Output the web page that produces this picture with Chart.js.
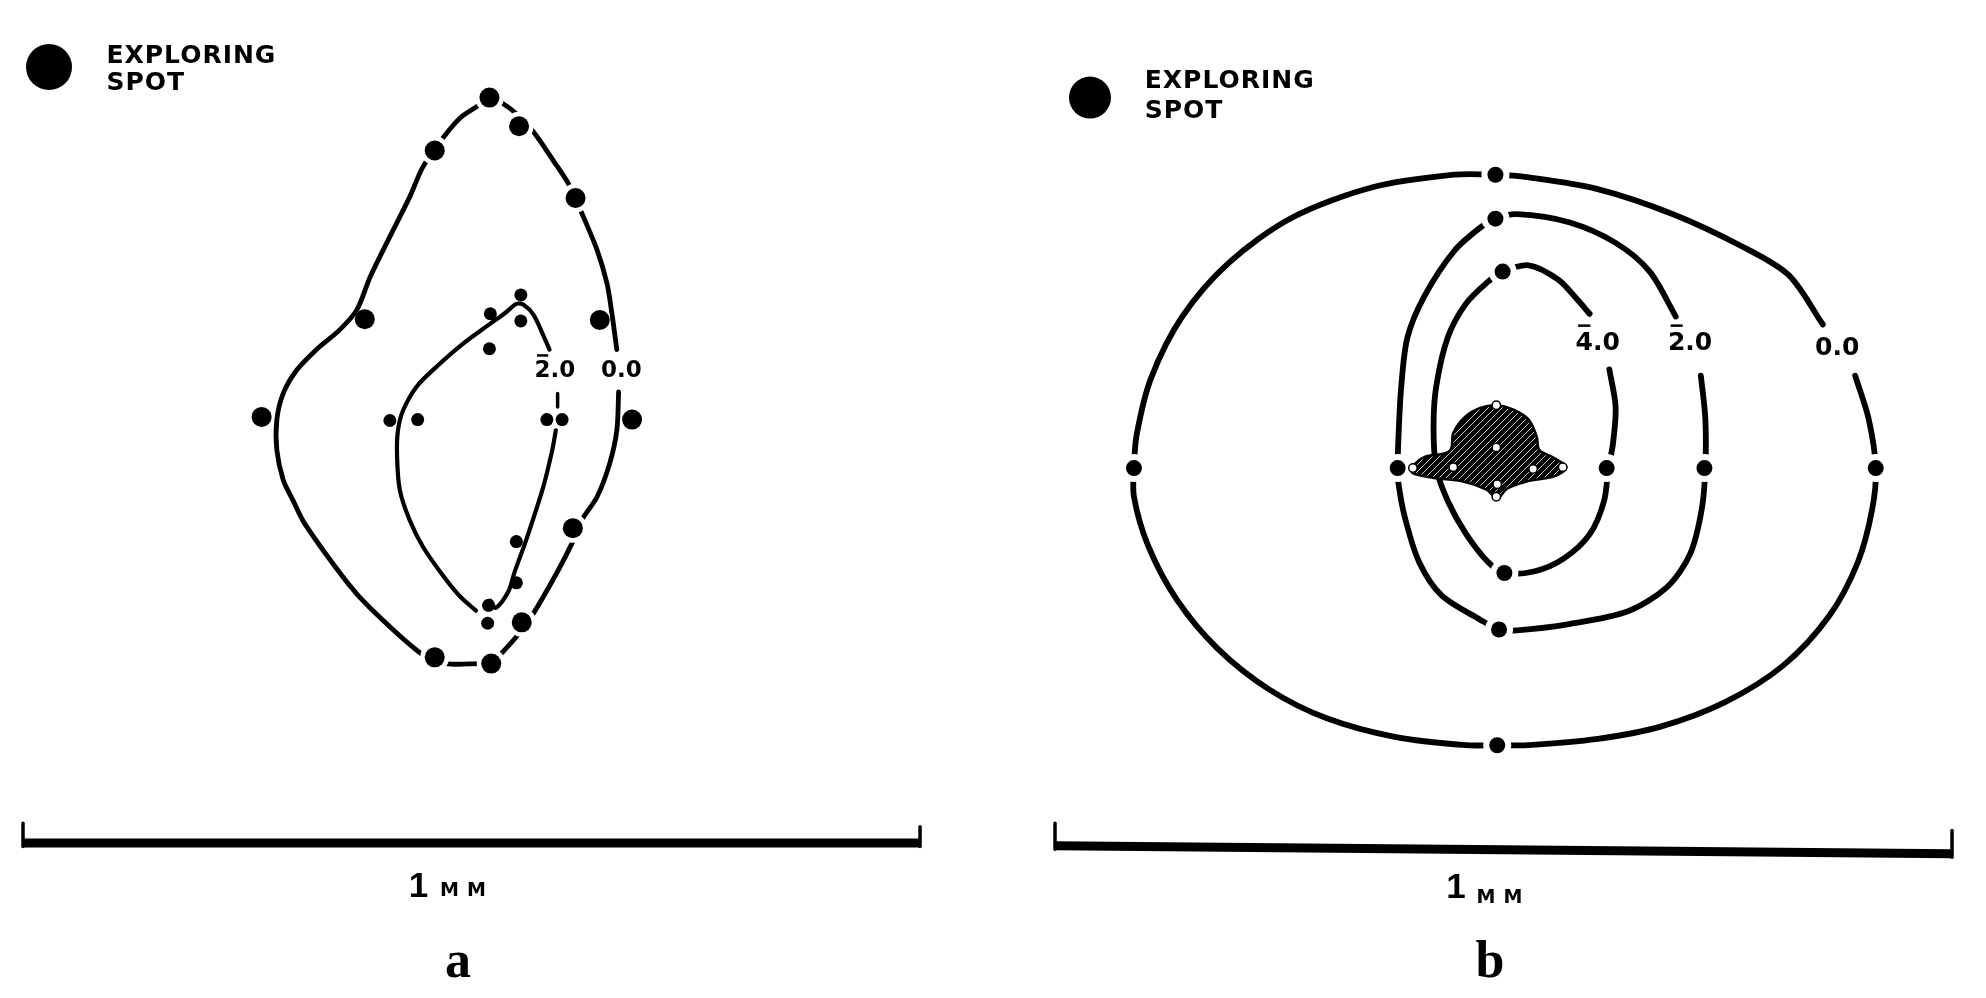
<!DOCTYPE html>
<html><head><meta charset="utf-8">
<script src="https://cdn.jsdelivr.net/npm/chart.js@4.4.1/dist/chart.umd.min.js"></script>
<style>
html,body{margin:0;padding:0;background:#fff;width:1986px;height:998px;overflow:hidden}
.panel{position:absolute;top:0;width:993px;height:998px}
#wa{left:0}#wb{left:993px}
canvas{display:block}
</style></head><body>
<div class="panel" id="wa"><canvas id="ca" width="993" height="998" style="width:993px;height:998px"></canvas></div>
<div class="panel" id="wb"><canvas id="cb" width="993" height="998" style="width:993px;height:998px"></canvas></div>
<script>
// Units: micrometres. x measured from the left end of each panel's 1 mm scale bar,
// y measured upward from the scale bar of panel a.

// ---------- panel a ----------
const aOuterContour = [[664,503],[662,460],[654,423],[640,386],[623,360],[612,334],[595,301],[569,256],[550,230],[532,210],[522,200],[509,200],[472,200],[444,211],[387,262],[361,291],[314,356],[301,382],[290,405],[283,438],[283,472],[290,501],[305,527],[327,550],[353,572],[372,594],[387,631],[409,676],[431,720],[446,754],[469,787],[487,808],[506,821],[520,831],[534,825],[550,813],[569,793],[591,761],[608,735],[623,702],[640,661],[651,624],[656,594],[662,550]];
const aInnerContourLeft = [[587,550],[580,566],[569,589],[558,600],[550,601],[539,592],[521,579],[491,557],[461,531],[439,509],[424,483],[418,460],[417,431],[420,394],[431,360],[446,330],[469,297],[487,275],[505,259]];
const aInnerContourRight = [[521,270],[527,262],[541,280],[548,302],[561,338],[580,397],[590,438],[594,460]];
const aInnerContourTick = [[596,501],[596,486]];
const aOuterDots = [[520,831],[553,799],[459,772],[616,719],[381,584],[643,583],[266,475],[679,472],[613,351],[556,246],[459,207],[522,200]];
const aOuterDotsOnLine = [0,1,2,3,8,9,10,11];
const aInnerDots = [[555,611],[521,590],[555,582],[520,551],[409,471],[440,472],[584,472],[601,472],[550,336],[550,290],[519,265],[518,245]];
const aContourLabels = [["2.0",593,519,true],["0.0",667,519,false]];
const aLegendDot = [[29,865]];
const aLegendText = [["EXPLORING",93,870],["SPOT",93,839]];
const aScaleBar = [[0,0],[1000,0]];
const aScaleTickLeft = [[0,22],[0,-4]];
const aScaleTickRight = [[1000,18],[1000,-4]];
const aScaleText = [["1",441,-60],["MM",465,-59]];
const aPanelLetter = [["a",485,-149]];

// ---------- panel b ----------
const bOuterContour = [[892,521],[907,473],[915,418],[911,372],[895,313],[863,253],[812,198],[747,157],[676,130],[605,116],[528,109],[493,109],[458,109],[380,118],[303,139],[239,171],[181,217],[136,271],[104,331],[88,386],[88,418],[91,455],[107,518],[142,587],[194,647],[264,697],[354,731],[445,745],[491,745],[528,742],[605,729],[689,701],[766,665],[818,633],[856,578]];
const bContour2 = [[720,521],[725,473],[725,418],[721,372],[708,322],[682,285],[638,258],[573,244],[515,237],[495,238],[474,249],[431,276],[406,313],[390,363],[383,400],[382,418],[383,455],[386,509],[393,564],[412,610],[445,660],[474,686],[491,696],[515,701],[573,692],[625,669],[663,637],[692,587]];
const bContour4 = [[618,528],[625,486],[622,445],[617,418],[612,381],[596,344],[567,317],[535,303],[501,301],[483,313],[458,345],[438,381],[425,418],[422,464],[425,509],[438,564],[458,601],[483,626],[499,637],[528,644],[561,628],[583,605],[596,590]];
const bDots = [[491,745],[491,696],[499,637],[88,418],[382,418],[615,418],[724,418],[915,418],[501,301],[495,238],[493,109]];
const bSpotOutline = [[396,418],[411,430],[440,437],[444,457],[457,475],[474,485],[492,488],[511,483],[528,472],[537,453],[540,438],[555,430],[570,419],[557,409],[526,403],[504,395],[493,384],[481,394],[455,403],[422,407],[399,412],[396,418]];
const bSpotDots = [[492,488],[492,441],[399,418],[444,419],[533,417],[566,419],[493,400],[492,386]];
const bContourLabels = [["4.0",605,550,true],["2.0",708,550,true],["0.0",872,544,false]];
const bLegendDot = [[39,831]];
const bLegendText = [["EXPLORING",100,842],["SPOT",100,808]];
const bScaleBar = [[0,-3],[1000,-12]];
const bScaleTickLeft = [[0,22],[0,-7]];
const bScaleTickRight = [[1000,14],[1000,-16]];
const bScaleText = [["1",447,-61],["MM",470,-67]];
const bPanelLetter = [["b",485,-149]];

// ---------- layout ----------
const UM_PER_PX = 1.1148;
const BAR_Y_PX = 843;

const xy = pts => pts.map(p => ({x:p[0], y:p[1]}));

function lineDs(pts, w, order, tension, cap) {
  return {data: xy(pts), showLine: true, borderColor:'#000', borderWidth:w, pointRadius:0,
          tension: tension===undefined?0.3:tension, fill:false, order,
          borderCapStyle: cap || 'round', borderJoinStyle:'round'};
}
function dotDs(pts, r, order, color, bw, bc) {
  return {data: xy(pts), showLine:false, pointRadius:r, pointHoverRadius:r, pointStyle:'circle',
          pointBackgroundColor: color||'#000', pointBorderWidth: bw||0, pointBorderColor: bc||'#000', order};
}
function hatchPattern() {
  const c = document.createElement('canvas'); c.width = 7; c.height = 7;
  const g = c.getContext('2d');
  g.fillStyle = '#000'; g.fillRect(0,0,7,7);
  g.strokeStyle = '#fff'; g.lineWidth = 0.8;
  g.beginPath(); g.moveTo(-1,8); g.lineTo(8,-1); g.stroke();
  return g.createPattern(c, 'repeat');
}

function textPlugin(items) {
  return {
    id: 'figText',
    afterDatasetsDraw(chart) {
      const ctx = chart.ctx, xs = chart.scales.x, ys = chart.scales.y;
      ctx.save();
      ctx.fillStyle = '#000'; ctx.strokeStyle = '#000';
      for (const t of items) {
        const px = xs.getPixelForValue(t.x), py = ys.getPixelForValue(t.y);
        ctx.font = t.font;
        ctx.letterSpacing = t.spacing || '0px';
        ctx.textAlign = t.align || 'center';
        ctx.textBaseline = 'alphabetic';
        ctx.fillText(t.text, px, py);
        if (t.bar) {
          const W = ctx.measureText(t.text).width;
          const m = ctx.measureText(t.text[0]);
          const left = (t.align === 'left') ? px : px - W/2;
          const top = py - m.actualBoundingBoxAscent;
          ctx.lineWidth = t.barWidth || 2.5;
          ctx.lineCap = 'butt';
          ctx.beginPath();
          ctx.moveTo(left + m.width*0.15, top - t.barGap);
          ctx.lineTo(left + m.width*0.85, top - t.barGap);
          ctx.stroke();
        }
      }
      ctx.letterSpacing = '0px';
      ctx.restore();
    }
  };
}

function labelItems(labels, size, barGap) {
  return labels.map(l => ({text:l[0], x:l[1], y:l[2], bar:l[3], font:'bold '+size+'px "DejaVu Sans"', barGap, barWidth: 2.5}));
}
function commonItems(legendText, scaleText, letter) {
  const items = [];
  legendText.forEach(l => items.push({text:l[0], x:l[1], y:l[2], align:'left', font:'bold 25px "DejaVu Sans"', spacing:'1px'}));
  items.push({text:scaleText[0][0], x:scaleText[0][1], y:scaleText[0][2], font:'bold 35px "Liberation Sans"'});
  items.push({text:scaleText[1][0], x:scaleText[1][1], y:scaleText[1][2], align:'left', font:'bold 19px "DejaVu Sans"', spacing:'8px'});
  items.push({text:letter[0][0], x:letter[0][1], y:letter[0][2], font:'bold 52px "Liberation Serif"'});
  return items;
}

function makeChart(id, leftPx, datasets, items) {
  const xMin = -leftPx * UM_PER_PX, xMax = (993 - leftPx) * UM_PER_PX;
  const yMax = BAR_Y_PX * UM_PER_PX, yMin = (BAR_Y_PX - 998) * UM_PER_PX;
  return new Chart(document.getElementById(id), {
    type: 'scatter',
    data: {datasets},
    options: {
      responsive:false, animation:false, devicePixelRatio:1, events:[],
      layout:{padding:0, autoPadding:false},
      plugins:{legend:{display:false}, tooltip:{enabled:false}},
      scales:{
        x:{type:'linear', display:false, min:xMin, max:xMax},
        y:{type:'linear', display:false, min:yMin, max:yMax}
      }
    },
    plugins:[textPlugin(items)]
  });
}

// panel a
makeChart('ca', 23, [
  dotDs(aLegendDot, 23, 0),
  dotDs(aOuterDots, 10, 1),
  dotDs(aInnerDots, 6.5, 1),
  dotDs(aOuterDotsOnLine.map(i => aOuterDots[i]), 14.5, 3, '#fff'),
  lineDs(aOuterContour, 4.8, 5),
  lineDs(aInnerContourLeft, 4.2, 5),
  lineDs(aInnerContourRight, 4.2, 5),
  lineDs(aInnerContourTick, 3.5, 5, 0),
  lineDs(aScaleBar, 9, 5, 0, 'butt'),
  lineDs(aScaleTickLeft, 3.5, 5, 0, 'butt'),
  lineDs(aScaleTickRight, 3.5, 5, 0, 'butt')
], labelItems(aContourLabels, 23, 5).concat(commonItems(aLegendText, aScaleText, aPanelLetter)));

// panel b
makeChart('cb', 1055 - 993, [
  dotDs(bLegendDot, 21, 0),
  dotDs(bDots, 8, 1),
  dotDs(bSpotDots, 4.2, 1, '#fff', 1.5, '#000'),
  Object.assign(lineDs(bSpotOutline, 2.5, 2, 0.35), {fill:'shape', backgroundColor: hatchPattern()}),
  dotDs(bDots, 14, 3, '#fff'),
  lineDs(bOuterContour, 5.8, 5),
  lineDs(bContour2, 5.8, 5),
  lineDs(bContour4, 5.8, 5),
  lineDs(bScaleBar, 9, 5, 0, 'butt'),
  lineDs(bScaleTickLeft, 3.5, 5, 0, 'butt'),
  lineDs(bScaleTickRight, 3.5, 5, 0, 'butt')
], labelItems(bContourLabels, 25, 6).concat(commonItems(bLegendText, bScaleText, bPanelLetter)));
</script>
</body></html>
